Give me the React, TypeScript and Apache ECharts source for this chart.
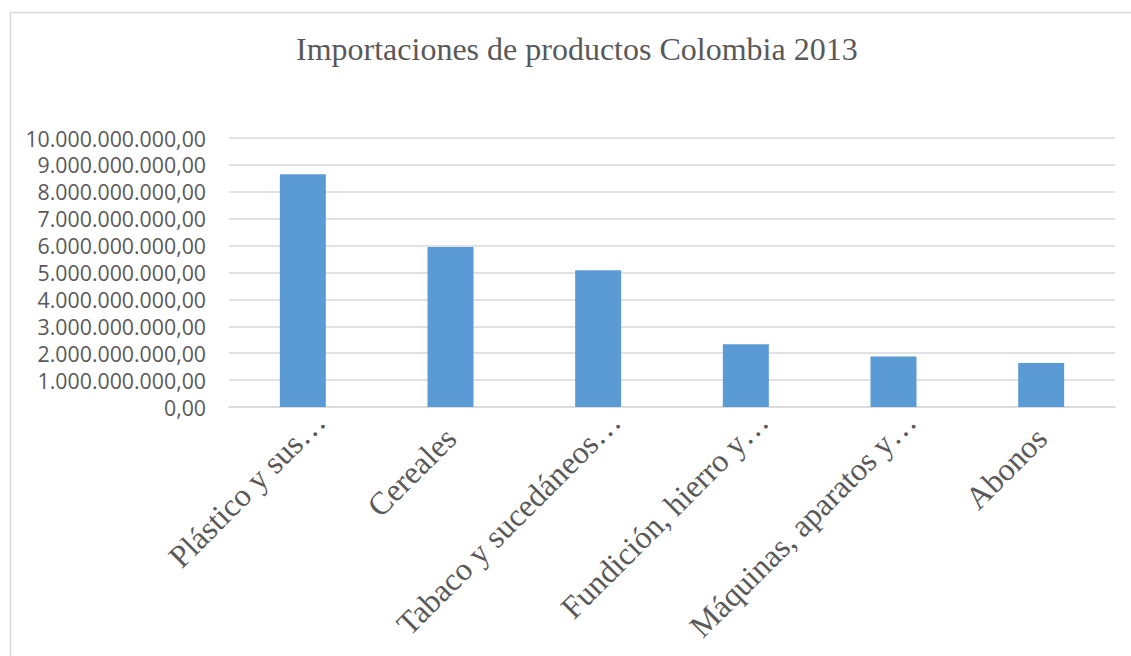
import React, { useEffect, useRef } from "react";
import * as echarts from "echarts";

const TITLE = "Importaciones de productos Colombia 2013";
const categories = [
  "Plástico y sus…",
  "Cereales",
  "Tabaco y sucedáneos…",
  "Fundición, hierro y…",
  "Máquinas, aparatos y…",
  "Abonos",
];
const values = [8650000000, 5950000000, 5080000000, 2330000000, 1875000000, 1640000000];
const yMin = 0;
const yMax = 10000000000;
const yInterval = 1000000000;

function formatEs(v: number): string {
  const int = Math.round(v).toString().replace(/\B(?=(\d{3})+(?!\d))/g, ".");
  return int + ",00";
}

export default function App() {
  const ref = useRef<HTMLDivElement>(null);
  useEffect(() => {
    if (!ref.current) return;
    const chart = echarts.init(ref.current, null, { renderer: "svg" });
    const xData = categories.map((c) =>
      c.endsWith("…")
        ? { value: c, textStyle: { padding: [0, -24, 0, 0] } }
        : { value: c }
    );
    chart.setOption({
      animation: false,
      backgroundColor: "#ffffff",
      title: {
        text: TITLE,
        left: 291,
        top: 28,
        padding: 5,
        textStyle: {
          fontFamily: "'Liberation Serif', 'Times New Roman', serif",
          fontSize: 32,
          fontWeight: "normal",
          color: "#595959",
        },
      },
      graphic: [
        {
          type: "rect",
          shape: { x: 10.5, y: 12.5, width: 1200, height: 700 },
          style: { fill: "none", stroke: "#d9d9d9", lineWidth: 1.5 },
          silent: true,
        },
      ],
      grid: {
        left: 229,
        right: 16,
        top: 138,
        bottom: 249,
        containLabel: false,
        outerBoundsMode: "none",
      },
      xAxis: {
        type: "category",
        data: xData,
        axisLine: { show: true, lineStyle: { color: "#d9d9d9", width: 1.5 } },
        axisTick: { show: false },
        axisLabel: {
          rotate: 45,
          interval: 0,
          margin: 26,
          fontFamily: "'Liberation Serif', 'Times New Roman', serif",
          fontSize: 32,
          color: "#595959",
        },
      },
      yAxis: {
        type: "value",
        min: yMin,
        max: yMax,
        interval: yInterval,
        axisLine: { show: false },
        axisTick: { show: false },
        splitLine: { lineStyle: { color: "#d9d9d9", width: 1.5 } },
        axisLabel: {
          margin: 23,
          fontFamily: "'Open Sans', 'Noto Sans', sans-serif",
          fontSize: 21.3,
          color: "#595959",
          formatter: (v: number) => formatEs(v),
        },
      },
      series: [
        {
          type: "bar",
          data: values,
          barWidth: 46,
          itemStyle: { color: "#5b9bd5" },
        },
      ],
    });
    return () => chart.dispose();
  }, []);
  return (
    <div
      ref={ref}
      style={{ position: "absolute", left: 0, top: 0, width: 1131, height: 656 }}
    />
  );
}
